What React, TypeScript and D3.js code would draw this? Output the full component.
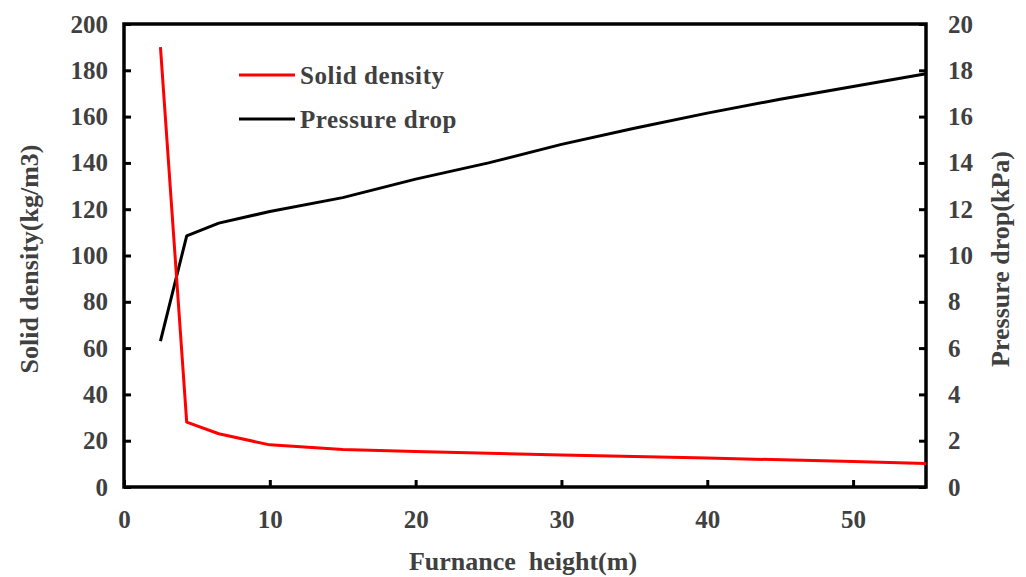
import React, { useEffect, useRef } from 'react';
import * as d3 from 'd3';

// Solid density (left axis, kg/m3) vs furnace height (m)
const densityHeights = [2.5, 4.3, 6.5, 10, 15, 20, 30, 40, 50, 55];
const densityValues = [190, 28, 23, 18.2, 16.2, 15.3, 13.8, 12.5, 11, 10.2];

// Pressure drop (right axis, kPa) vs furnace height (m)
const pressureHeights = [2.5, 4.3, 6.5, 10, 15, 20, 25, 30, 35, 40, 45, 50, 55];
const pressureValues = [6.3, 10.85, 11.4, 11.9, 12.5, 13.3, 14.0, 14.8, 15.5, 16.15, 16.75, 17.3, 17.85];

const xTicks = [0, 10, 20, 30, 40, 50];
const leftTicks = [0, 20, 40, 60, 80, 100, 120, 140, 160, 180, 200];
const rightTicks = [0, 2, 4, 6, 8, 10, 12, 14, 16, 18, 20];

const textColor = '#404040';
const font = '"Liberation Serif", "Times New Roman", serif';

export default function App() {
  const svgRef = useRef<SVGSVGElement | null>(null);

  useEffect(() => {
    if (!svgRef.current) return;
    const svg = d3.select(svgRef.current);
    svg.selectAll('*').remove();

    const width = 1026;
    const height = 577;
    const margin = { top: 24, right: 100, bottom: 90, left: 124 };

    const x = d3.scaleLinear().domain([0, 55]).range([margin.left, width - margin.right]);
    const yL = d3.scaleLinear().domain([0, 200]).range([height - margin.bottom, margin.top]);
    const yR = d3.scaleLinear().domain([0, 20]).range([height - margin.bottom, margin.top]);

    svg.append('rect').attr('width', width).attr('height', height).attr('fill', 'white');

    const styleAxis = (g: d3.Selection<SVGGElement, unknown, null, undefined>) => g
      .call(g => g.select('.domain').remove())
      .call(g => g.selectAll('.tick line').attr('stroke', '#000').attr('stroke-width', 3))
      .call(g => g.selectAll('.tick text')
        .attr('fill', textColor)
        .attr('font-family', font)
        .attr('font-weight', 'bold')
        .attr('font-size', 25));

    // Axes
    svg.append('g')
      .attr('transform', `translate(0,${height - margin.bottom})`)
      .call(d3.axisBottom(x).tickValues(xTicks).tickSizeInner(-7).tickSizeOuter(0).tickPadding(23))
      .call(styleAxis);

    svg.append('g')
      .attr('transform', `translate(${margin.left},0)`)
      .call(d3.axisLeft(yL).tickValues(leftTicks).tickSizeInner(-7).tickSizeOuter(0).tickPadding(16))
      .call(styleAxis);

    svg.append('g')
      .attr('transform', `translate(${width - margin.right},0)`)
      .call(d3.axisRight(yR).tickValues(rightTicks).tickSizeInner(-7).tickSizeOuter(0).tickPadding(22))
      .call(styleAxis);

    // Frame
    svg.append('rect')
      .attr('x', margin.left)
      .attr('y', margin.top)
      .attr('width', width - margin.left - margin.right)
      .attr('height', height - margin.top - margin.bottom)
      .attr('fill', 'none')
      .attr('stroke', '#000')
      .attr('stroke-width', 3.5);

    // Lines
    const densityLine = d3.line<number>()
      .x((_, i) => x(densityHeights[i]))
      .y(d => yL(d));

    const pressureLine = d3.line<number>()
      .x((_, i) => x(pressureHeights[i]))
      .y(d => yR(d));

    svg.append('path')
      .attr('d', pressureLine(pressureValues))
      .attr('fill', 'none')
      .attr('stroke', '#000')
      .attr('stroke-width', 3)
      .attr('stroke-linejoin', 'round');

    svg.append('path')
      .attr('d', densityLine(densityValues))
      .attr('fill', 'none')
      .attr('stroke', '#ff0000')
      .attr('stroke-width', 3)
      .attr('stroke-linejoin', 'round');

    // Legend
    const legendItems = [
      { label: 'Solid density', color: '#ff0000' },
      { label: 'Pressure drop', color: '#000' },
    ];
    const legend = svg.append('g')
      .selectAll('g')
      .data(legendItems)
      .join('g')
      .attr('transform', (_, i) => `translate(239,${75 + i * 44})`);

    legend.append('line')
      .attr('x1', 0)
      .attr('x2', 56)
      .attr('stroke', d => d.color)
      .attr('stroke-width', 3);

    legend.append('text')
      .attr('x', 61)
      .attr('dy', '0.35em')
      .attr('fill', textColor)
      .attr('font-family', font)
      .attr('font-weight', 'bold')
      .attr('font-size', 25)
      .attr('letter-spacing', 0.6)
      .text(d => d.label);

    // Axis titles
    svg.append('text')
      .attr('x', 523)
      .attr('y', 570)
      .attr('text-anchor', 'middle')
      .attr('fill', textColor)
      .attr('font-family', font)
      .attr('font-weight', 'bold')
      .attr('font-size', 26)
      .attr('xml:space', 'preserve')
      .text('Furnance  height(m)');

    svg.append('text')
      .attr('transform', `translate(38,259) rotate(-90)`)
      .attr('text-anchor', 'middle')
      .attr('fill', textColor)
      .attr('font-family', font)
      .attr('font-weight', 'bold')
      .attr('font-size', 26)
      .text('Solid density(kg/m3)');

    svg.append('text')
      .attr('transform', `translate(1009,259) rotate(-90)`)
      .attr('text-anchor', 'middle')
      .attr('fill', textColor)
      .attr('font-family', font)
      .attr('font-weight', 'bold')
      .attr('font-size', 26)
      .text('Pressure drop(kPa)');
  }, []);

  return (
    <svg
      ref={svgRef}
      width={1026}
      height={577}
      style={{ position: 'absolute', left: 0, top: 0, display: 'block' }}
    />
  );
}
